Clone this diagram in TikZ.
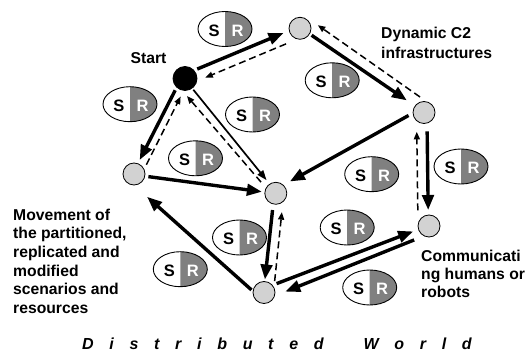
\documentclass[tikz,border=0pt]{standalone}
\usepackage{fontspec}
\setmainfont{Liberation Sans}
\usetikzlibrary{arrows.meta,calc}
\definecolor{nodegray}{RGB}{210,210,210}
\definecolor{srgray}{RGB}{128,128,128}
\def\gapx{\hskip 15.7pt}
\begin{document}
\begin{tikzpicture}[x=1pt,y=-1pt,
  every node/.style={inner sep=0pt},
  place/.style={circle,draw,line width=0.8pt,fill=nodegray,minimum size=22pt},
  startplace/.style={circle,draw,line width=0.8pt,fill=black,minimum size=24pt},
  fwd/.style={line width=3.4pt,-{Triangle[length=15pt,width=11.5pt]}},
  back/.style={line width=1.5pt,dash pattern=on 7pt off 4pt,-{Triangle[length=7.5pt,width=6pt]}},
  thinfwd/.style={line width=1.7pt,-{Triangle[length=10pt,width=7pt]}},
  par/.style 2 args={to path={($(\tikztostart)!#1!90:(\tikztotarget)$) -- ($(\tikztotarget)!#2!-90:(\tikztostart)$)}},
  sh/.style 2 args={shorten <=#1,shorten >=#2},
  lbl/.style={font=\fontsize{15.7}{18.7}\selectfont\bfseries,align=left},
  srfont/.style={font=\fontsize{16.5}{18}\selectfont\bfseries},
  sr/.pic={
    \fill[srgray] (0,-17.5) arc[start angle=90,end angle=-90,x radius=27pt,y radius=17.5pt] -- cycle;
    \draw[line width=0.9pt] (0,0) ellipse[x radius=27pt,y radius=17.5pt];
    \node[srfont] (-s) at (-11,1.5) {S};
    \node[srfont,text=white] (-r) at (12.5,1.5) {R};
  }
]
\useasboundingbox (0,0) rectangle (529,352);

% places
\node[startplace] (S) at (185,78.5) {};
\node[place] (T) at (300,28.3) {};
\node[place] (RU) at (424,112.5) {};
\node[place] (RL) at (429,226) {};
\node[place] (C) at (275.8,193.3) {};
\node[place] (B) at (264,292.5) {};
\node[place] (L) at (134,174) {};

% S/R ellipses
\pic (e1) at (225,29) {sr};
\pic (e2) at (130,104.2) {sr};
\pic (e3) at (252.5,114.5) {sr};
\pic (e4) at (195.5,158.3) {sr};
\pic (e5) at (332.2,80.3) {sr};
\pic (e6) at (461,166.5) {sr};
\pic (e7) at (371.7,174.2) {sr};
\pic (e8) at (347.2,227.5) {sr};
\pic (e9) at (369.7,287.5) {sr};
\pic (e10) at (180.3,269.2) {sr};
\pic (e11) at (239.5,237.5) {sr};

% connectors
\draw[fwd,sh={15pt}{17pt}] (S) to[par={4pt}{2pt}] (T);
\draw[back,sh={19pt}{19pt}] (T) to[par={9pt}{7pt}] (S);
\draw[fwd,sh={13.5pt}{21pt}] (T) to[par={0.8pt}{0.3pt}] (RU);
\draw[back,sh={12pt}{13pt}] (RU) to[par={-10.4pt}{-12.8pt}] (T);
\draw[fwd,sh={15pt}{18pt}] (RU) to[par={-4.9pt}{-3.5pt}] (C);
\draw[fwd,sh={19pt}{16pt}] (RU) to[par={2.9pt}{-0.6pt}] (RL);
\draw[back,sh={16pt}{19pt}] (RL) to[par={11pt}{7.5pt}] (RU);
\draw[fwd,sh={17pt}{13pt}] (C) to[par={-1.4pt}{-0.5pt}] (B);
\draw[back,sh={12.5pt}{18pt}] (B) to[par={-9.4pt}{-8pt}] (C);
\draw[fwd,sh={15pt}{16.7pt}] (B) to[par={3.8pt}{0.6pt}] (RL);
\draw[fwd,sh={19pt}{20pt}] (RL) to[par={7.4pt}{7.1pt}] (B);
\draw[fwd,sh={11pt}{25pt}] (B) to[par={6.4pt}{8.3pt}] (L);
\draw[fwd,sh={14.6pt}{14pt}] (L) to[par={-0.7pt}{-0.3pt}] (C);
\draw[fwd,sh={15pt}{15pt}] (S) to[par={-3.4pt}{-1.3pt}] (L);
\draw[back,sh={14pt}{18pt}] (L) to[par={-6.9pt}{-4.2pt}] (S);
\draw[thinfwd,sh={14pt}{16pt}] (S) to[par={-0.6pt}{1.1pt}] (C);
\draw[back,sh={18pt}{15pt}] (C) to[par={3.9pt}{10pt}] (S);

% labels (base anchor = baseline of the last line)
\node[lbl,anchor=base] (startlbl) at (148.5,64) {Start};
\node[lbl,anchor=base west,font=\fontsize{15.7}{20}\selectfont\bfseries] (dyn) at (381,58.3) {Dynamic C2\\infrastructures};
\node[lbl,anchor=base west] (move) at (13,313.5) {Movement of\\the partitioned,\\replicated and\\modified\\scenarios and\\resources};
\node[lbl,anchor=base west,font=\fontsize{15.7}{18}\selectfont\bfseries] (comm) at (421,297.7) {Communicati\\ng humans or\\robots};
\node[font=\fontsize{16}{19}\selectfont\bfseries\itshape,anchor=base west] (world) at (82,349.5)
  {D\gapx i\gapx s\gapx t\gapx r\gapx i\gapx b\gapx u\gapx t\gapx e\gapx d\hskip 40pt W\gapx o\gapx r\gapx l\gapx d};
\end{tikzpicture}
\end{document}
